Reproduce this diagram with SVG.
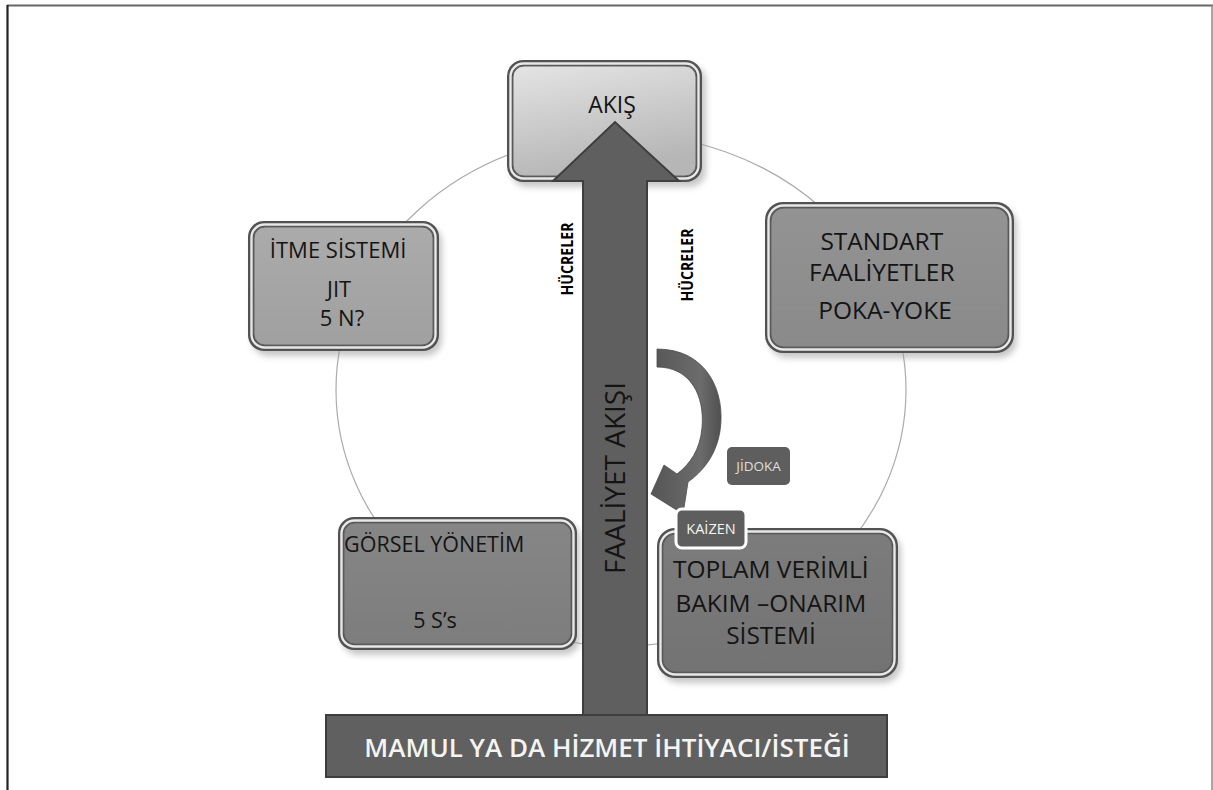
<svg xmlns="http://www.w3.org/2000/svg" width="1213" height="790" viewBox="0 0 1213 790">
  <defs>
    <style>
      .txt { font-family: "Open Sans", "Noto Sans", "Liberation Sans", sans-serif; fill: #141414; text-anchor: middle; }
      .light { fill: #f4f4f4; }
      .pale { fill: #dedede; }
      .ink { fill: #000000; font-weight: bold; }
      .rim { fill: #525252; }
      .hl { fill: none; stroke: #e8e8e8; stroke-width: 2.4; }
      .inner { stroke: #626262; stroke-width: 1; }
      .shadow { fill: #9a9a9a; opacity: 0.55; filter: url(#soft); }
      .lbl { fill: #5e5e5e; }
    </style>
    <filter id="soft" x="-10%" y="-10%" width="120%" height="130%">
      <feGaussianBlur stdDeviation="3"/>
    </filter>
    <linearGradient id="gAkis" x1="0" y1="0" x2="0.3" y2="1">
      <stop offset="0" stop-color="#e4e4e4"/>
      <stop offset="1" stop-color="#b6b6b6"/>
    </linearGradient>
    <linearGradient id="gItme" x1="0" y1="0" x2="0" y2="1">
      <stop offset="0" stop-color="#ababab"/>
      <stop offset="1" stop-color="#a0a0a0"/>
    </linearGradient>
    <linearGradient id="gStd" x1="0" y1="0" x2="0" y2="1">
      <stop offset="0" stop-color="#939393"/>
      <stop offset="1" stop-color="#8a8a8a"/>
    </linearGradient>
    <linearGradient id="gGor" x1="0" y1="0" x2="0" y2="1">
      <stop offset="0" stop-color="#868686"/>
      <stop offset="1" stop-color="#7d7d7d"/>
    </linearGradient>
    <linearGradient id="gTop" x1="0" y1="0" x2="0" y2="1">
      <stop offset="0" stop-color="#7c7c7c"/>
      <stop offset="1" stop-color="#737373"/>
    </linearGradient>
    <linearGradient id="gCurve" x1="0" y1="0" x2="1" y2="0">
      <stop offset="0" stop-color="#555555"/>
      <stop offset="0.7" stop-color="#6c6c6c"/>
      <stop offset="1" stop-color="#505050"/>
    </linearGradient>
  </defs>

  <rect width="1213" height="790" fill="#ffffff"/>

  <!-- page frame -->
  <g id="frame" fill="none">
    <line x1="7" y1="5.5" x2="1213" y2="5.5" stroke="#666" stroke-width="2"/>
    <line x1="7.5" y1="5" x2="7.5" y2="790" stroke="#222" stroke-width="2.2"/>
    <line x1="1212" y1="5" x2="1212" y2="790" stroke="#888" stroke-width="1.5"/>
  </g>

  <!-- cycle ring linking the nodes -->
  <g id="connectors">
    <ellipse cx="621" cy="390" rx="285" ry="256" fill="none" stroke="#ababab" stroke-width="1.2"/>
  </g>

  <g id="node-akis">
    <rect class="shadow" x="511" y="65" width="195" height="122" rx="16"/>
    <rect class="rim" x="507" y="60" width="195" height="122" rx="16"/>
    <rect class="hl" x="510.5" y="63.5" width="188" height="115" rx="13"/>
    <rect class="inner" x="513" y="66" width="183" height="110" rx="11" fill="url(#gAkis)"/>
    <text class="txt" x="612" y="113" font-size="23">AKIŞ</text>
  </g>

  <g id="node-itme">
    <rect class="shadow" x="252" y="226" width="190" height="130" rx="16"/>
    <rect class="rim" x="248" y="221" width="191" height="130" rx="16"/>
    <rect class="hl" x="251.5" y="224.5" width="184" height="123" rx="13"/>
    <rect class="inner" x="254" y="227" width="179" height="118" rx="11" fill="url(#gItme)"/>
    <text class="txt" font-size="22">
      <tspan x="341" y="258">İTME SİSTEMİ</tspan>
      <tspan x="342" y="297">JIT</tspan>
      <tspan x="342" y="326">5 N?</tspan>
    </text>
  </g>

  <g id="node-standart">
    <rect class="shadow" x="769" y="207" width="248" height="151" rx="18"/>
    <rect class="rim" x="765" y="202" width="249" height="151" rx="18"/>
    <rect class="hl" x="768.5" y="205.5" width="242" height="144" rx="15"/>
    <rect class="inner" x="771" y="208" width="237" height="139" rx="13" fill="url(#gStd)"/>
    <text class="txt" font-size="24.5">
      <tspan x="885" y="250">STANDART</tspan>
      <tspan x="885" y="281">FAALİYETLER</tspan>
      <tspan x="885" y="319">POKA-YOKE</tspan>
    </text>
  </g>

  <g id="node-gorsel">
    <rect class="shadow" x="342" y="522" width="238" height="133" rx="16"/>
    <rect class="rim" x="338" y="517" width="239" height="133" rx="16"/>
    <rect class="hl" x="341.5" y="520.5" width="232" height="126" rx="13"/>
    <rect class="inner" x="344" y="523" width="227" height="121" rx="11" fill="url(#gGor)"/>
    <text class="txt" font-size="21.5">
      <tspan x="437" y="552">GÖRSEL YÖNETİM</tspan>
      <tspan x="435" y="628">5 S’s</tspan>
    </text>
  </g>

  <g id="node-toplam">
    <rect class="shadow" x="661" y="533" width="240" height="150" rx="18"/>
    <rect class="rim" x="657" y="528" width="241" height="150" rx="18"/>
    <rect class="hl" x="660.5" y="531.5" width="234" height="143" rx="15"/>
    <rect class="inner" x="663" y="534" width="229" height="138" rx="13" fill="url(#gTop)"/>
    <text class="txt" font-size="24.5">
      <tspan x="774" y="578">TOPLAM VERİMLİ</tspan>
      <tspan x="774" y="612">BAKIM –ONARIM</tspan>
      <tspan x="771" y="644">SİSTEMİ</tspan>
    </text>
  </g>

  <!-- main activity flow arrow -->
  <g id="flow-arrow">
    <path d="M583,716 L583,181 L553,181 L615,122 L679,181 L647,181 L647,716 Z" fill="#5f5f5f" stroke="#3e3e3e" stroke-width="2" stroke-linejoin="miter"/>
    <text class="txt" font-size="28" transform="translate(625,478) rotate(-90)">FAALİYET AKIŞI</text>
  </g>

  <g id="label-hucreler-left">
    <text class="txt ink" font-size="15.5" textLength="73" lengthAdjust="spacingAndGlyphs" transform="translate(573,259) rotate(-90)">HÜCRELER</text>
  </g>
  <g id="label-hucreler-right">
    <text class="txt ink" font-size="15.5" textLength="73" lengthAdjust="spacingAndGlyphs" transform="translate(693,265) rotate(-90)">HÜCRELER</text>
  </g>

  <!-- curved feedback arrow -->
  <g id="curve-arrow">
    <path d="M657,349 C707,349 726,392 720,431 C716,456 702,472 688,482 L683,514 L651,494 L664,465 L677,474 C690,464 700,450 702,428 C705,395 690,367 657,367 Z" fill="url(#gCurve)" stroke="#4a4a4a" stroke-width="0.8"/>
  </g>

  <g id="label-jidoka">
    <rect class="lbl" x="727" y="447" width="63" height="38" rx="5"/>
    <text class="txt pale" x="758.5" y="471" font-size="13.5">JİDOKA</text>
  </g>

  <g id="label-kaizen">
    <rect class="lbl" x="676" y="509" width="70" height="39" rx="6" stroke="#ffffff" stroke-width="3"/>
    <text class="txt light" x="711" y="534" font-size="14.5">KAİZEN</text>
  </g>

  <g id="node-mamul">
    <rect x="326" y="715" width="561" height="62" fill="#606060" stroke="#3e3e3e" stroke-width="2"/>
    <text class="txt light" x="607" y="757" font-size="26" font-weight="600">MAMUL YA DA HİZMET İHTİYACI/İSTEĞİ</text>
  </g>
</svg>
